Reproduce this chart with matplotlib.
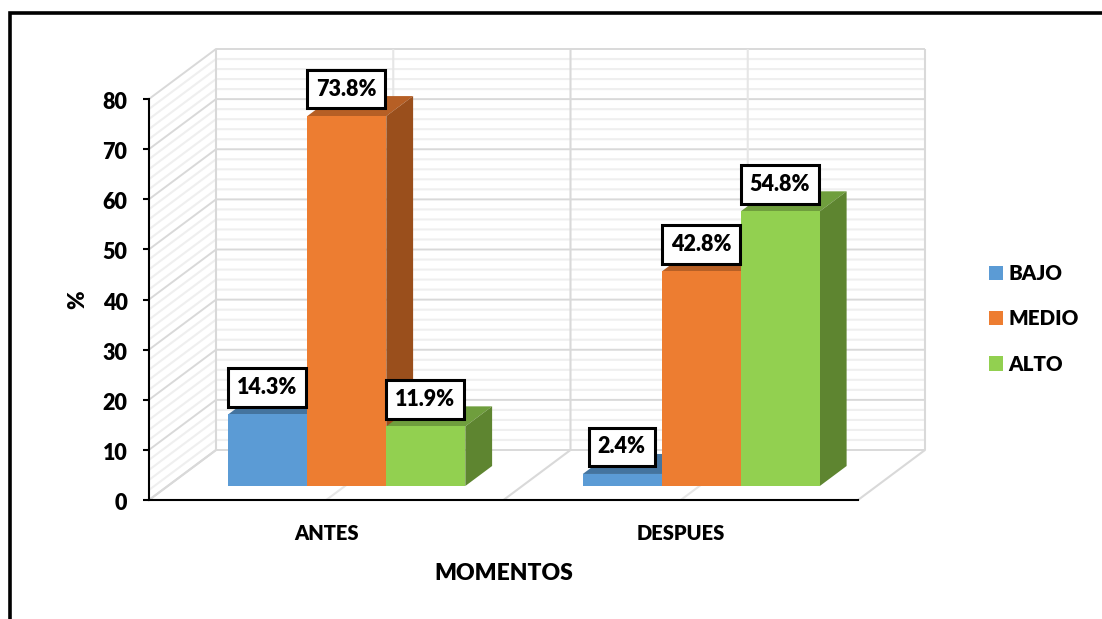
import matplotlib
matplotlib.use('Agg')
import matplotlib.pyplot as plt
from matplotlib.patches import Polygon, Patch
from matplotlib.transforms import ScaledTranslation

plt.rcParams['font.family'] = ['Lato', 'DejaVu Sans']
plt.rcParams['font.weight'] = 800

categories = ['ANTES', 'DESPUES']
series_names = ['BAJO', 'MEDIO', 'ALTO']
bajo = [14.3, 2.4]
medio = [73.8, 42.8]
alto = [11.9, 54.8]
y_major = [0, 10, 20, 30, 40, 50, 60, 70, 80]
y_minor = [2, 4, 6, 8, 12, 14, 16, 18, 22, 24, 26, 28, 32, 34, 36, 38, 42, 44, 46, 48,
           52, 54, 56, 58, 62, 64, 66, 68, 72, 74, 76, 78]
x_walls = [0, 0.5, 1, 1.5, 2]

# colores: frente, tapa, lado
colors = [('#5B9BD5', '#44749F', '#3A6A96'),
          ('#ED7D31', '#B65F25', '#9A4F1C'),
          ('#92D050', '#6F9E3D', '#5E8530')]

# profundidad de la caja 3D en unidades de los ejes
DX = 67 / 354.5
DY = 50 / 5.0125
bar_w = 79 / 354.5
bar_front = 0.28   # donde empieza la barra dentro del suelo
bar_depth = 0.4
center = 0.558

fig = plt.figure(figsize=(11.02, 6.19), dpi=100)
ax = fig.add_axes([149 / 1102, (619 - 500) / 619, 709 / 1102, 401 / 619])
ax.set_xlim(0, 2)
ax.set_ylim(0, 80)


def line(xs, ys, color, lw):
    ax.plot(xs, ys, color=color, lw=lw, clip_on=False, zorder=1, solid_capstyle='butt')


# paredes: primero las lineas menores
for v in y_minor:
    line([0, DX, 2 + DX], [v, v + DY, v + DY], '#EFEFEF', 1.5)
for v in y_major:
    line([0, DX, 2 + DX], [v, v + DY, v + DY], '#D9D9D9', 1.4)
for x in x_walls:
    major = x in (0, 1, 2)
    col = '#D9D9D9' if major else '#E6E6E6'
    # suelo y pared del fondo
    line([x, x + DX, x + DX], [0, DY, 80 + DY], col, 1.5)

# barras de izquierda a derecha
for c in range(len(categories)):
    for s, values in enumerate([bajo, medio, alto]):
        v = values[c]
        x0 = c + center + (s - 1.5) * bar_w
        x1 = x0 + bar_w
        y0 = bar_front * DY
        top = y0 + v
        ox = bar_depth * DX
        oy = bar_depth * DY
        front, cap, side = colors[s]
        ax.add_patch(Polygon([(x0, top), (x1, top), (x1 + ox, top + oy), (x0 + ox, top + oy)],
                             fc=cap, ec='none', clip_on=False, zorder=3))
        ax.add_patch(Polygon([(x1, y0), (x1 + ox, y0 + oy), (x1 + ox, top + oy), (x1, top)],
                             fc=side, ec='none', clip_on=False, zorder=3))
        ax.add_patch(Polygon([(x0, y0), (x1, y0), (x1, top), (x0, top)],
                             fc=front, ec='none', clip_on=False, zorder=3))
        ax.annotate(f'{v}%', xy=((x0 + x1) / 2, top), xytext=(-0.5, 27), textcoords='offset pixels',
                    ha='center', va='center', fontsize=15.5, color='black',
                    zorder=6, annotation_clip=False,
                    bbox=dict(boxstyle='square,pad=0.41', fc='white', ec='black', lw=2.2))

ax.spines['top'].set_visible(False)
ax.spines['right'].set_visible(False)
ax.spines['left'].set_linewidth(1.5)
ax.spines['bottom'].set_linewidth(1.5)
ax.spines['left'].set_zorder(5)
ax.spines['bottom'].set_zorder(5)
ax.patch.set_alpha(0)

ax.set_yticks(y_major)
ax.tick_params(axis='y', length=4.5, width=1.5, pad=11, labelsize=15.5)
ax.set_xticks([0.5, 1.5])
ax.set_xticklabels(categories)
ax.tick_params(axis='x', length=0, pad=17, labelsize=14.5)
ax.set_xlabel('MOMENTOS', fontsize=16.5, fontweight=800, labelpad=15)
ax.set_ylabel('%', fontsize=16, fontweight=800, labelpad=10)

# bajar un poco los numeros del eje y
for lab in ax.get_yticklabels():
    lab.set_transform(lab.get_transform() + ScaledTranslation(0, -1.5 / 100, fig.dpi_scale_trans))

handles = [Patch(fc=colors[i][0], ec='none', label=series_names[i]) for i in range(3)]
fig.legend(handles=handles, loc='upper left', bbox_to_anchor=(989 / 1102, 1 - 264 / 619),
           frameon=False, fontsize=14.8, borderpad=0, borderaxespad=0, handlelength=0.7,
           handleheight=0.7, handletextpad=0.25, labelspacing=1.28)

# marco negro de la captura
fig.add_artist(plt.Line2D([9.5 / 1102, 9.5 / 1102, 1], [0, 1 - 12.5 / 619, 1 - 12.5 / 619],
                          color='black', lw=2.6, solid_joinstyle='miter'))

fig.savefig('out.png', dpi=100)
